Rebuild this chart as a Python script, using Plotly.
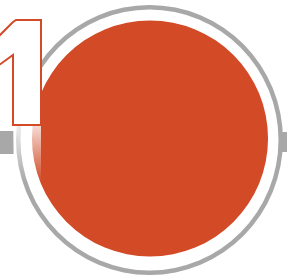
import plotly.graph_objects as go

# --- values (decorative badge: one full disc, digit label) ---
disc_labels = ["1"]
disc_values = [100]
badge_number = "1"

W, H = 287, 279
cx, cy = 150, 138.5
r_disc = 118

ORANGE = "#D24A26"
GRAY = "#A8A8A8"

fig = go.Figure()

# invisible trace so that the cartesian axes (used by the shapes) exist
fig.add_trace(go.Scatter(x=[0], y=[0], mode="none", hoverinfo="skip", showlegend=False))

# orange disc as a one-slice pie
fig.add_trace(go.Pie(
    labels=disc_labels, values=disc_values,
    marker=dict(colors=[ORANGE], line=dict(width=0)),
    textinfo="none", hoverinfo="label", sort=False, showlegend=False,
    domain=dict(x=[(cx - r_disc) / W, (cx + r_disc) / W],
                y=[(H - cy - r_disc) / H, (H - cy + r_disc) / H]),
))

shapes = []
# gray horizontal bar (left and right stubs)
shapes.append(dict(type="rect", x0=0, x1=14, y0=131, y1=154, fillcolor=GRAY,
                   line=dict(width=0), layer="below"))
shapes.append(dict(type="rect", x0=270, x1=W, y0=132, y1=152, fillcolor=GRAY,
                   line=dict(width=0), layer="below"))
# rings
shapes.append(dict(type="circle", x0=16, x1=283, y0=5, y1=275,
                   fillcolor=GRAY, line=dict(width=0), layer="below"))
shapes.append(dict(type="circle", x0=20.5, x1=278.5, y0=9.5, y1=270.5,
                   fillcolor="white", line=dict(width=0), layer="below"))

# fading white overlay below the digit
top, bottom = 125, 182
n = bottom - top
for i in range(n):
    op = 0.8 * (1 - i / n)
    shapes.append(dict(type="rect", x0=13, x1=41, y0=top + i, y1=top + i + 1,
                       fillcolor="white", opacity=op, line=dict(width=0), layer="above"))

# outlined digit "1"
digit_path = "M 41 20 L 16 20 L 13 22 L -5 40 L -5 68 L 13 55 L 13 125 L 41 125 Z"
shapes.append(dict(type="path", path=digit_path, fillcolor="white",
                   line=dict(color=ORANGE, width=2), layer="above"))

fig.update_layout(
    width=W, height=H, margin=dict(l=0, r=0, t=0, b=0),
    paper_bgcolor="white", plot_bgcolor="white",
    xaxis=dict(range=[0, W], visible=False, fixedrange=True),
    yaxis=dict(range=[H, 0], visible=False, fixedrange=True),
    shapes=shapes, showlegend=False,
    meta=[badge_number],
)
fig.write_html("out.html", config={"displayModeBar": False},
               post_script="document.body.style.margin='0';")
